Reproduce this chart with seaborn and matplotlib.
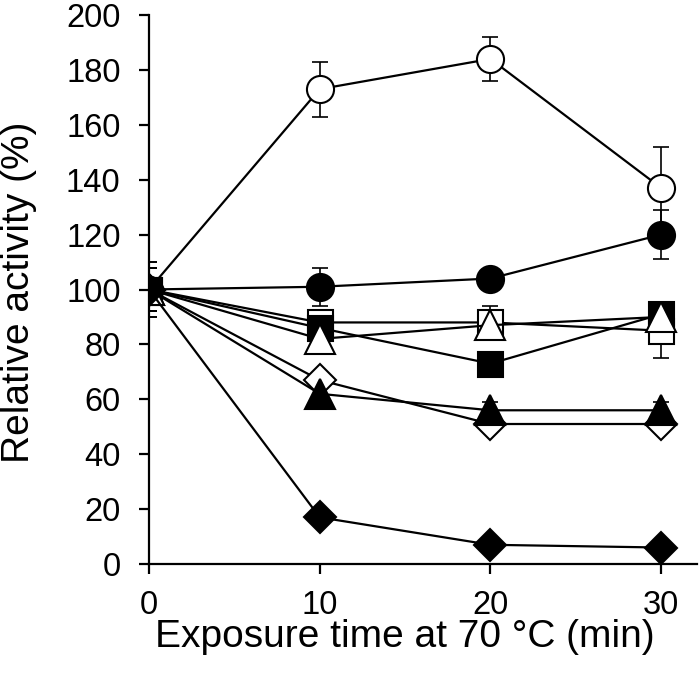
import matplotlib
matplotlib.use("Agg")
import matplotlib.pyplot as plt
import seaborn as sns
import pandas as pd
import numpy as np

times = [0, 10, 20, 30]
open_circle = [100, 173, 184, 137]
open_circle_err = [10, 10, 8, 15]
filled_circle = [100, 101, 104, 120]
filled_circle_err = [10, 7, 3, 9]
filled_square = [100, 86, 73, 91]
filled_square_err = [8, 3, 3, 3]
open_square = [100, 88, 88, 85]
open_square_err = [8, 3, 6, 10]
open_triangle = [100, 82, 87, 90]
open_triangle_err = [8, 3, 3, 3]
filled_triangle = [100, 62, 56, 56]
filled_triangle_err = [8, 2, 3, 3]
open_diamond = [100, 67, 51, 51]
open_diamond_err = [8, 2, 2, 2]
filled_diamond = [100, 17, 7, 6]
filled_diamond_err = [8, 2, 2, 2]

series = [
    ("open_circle", open_circle, open_circle_err, "o", "white", 19.5),
    ("filled_circle", filled_circle, filled_circle_err, "o", "black", 19.5),
    ("open_square", open_square, open_square_err, "s", "white", 18),
    ("filled_square", filled_square, filled_square_err, "s", "black", 18),
    ("open_diamond", open_diamond, open_diamond_err, "D", "white", 16),
    ("filled_triangle", filled_triangle, filled_triangle_err, "^", "black", 21),
    ("open_triangle", open_triangle, open_triangle_err, "^", "white", 21),
    ("filled_diamond", filled_diamond, filled_diamond_err, "D", "black", 16),
]

sns.set_style("ticks")
plt.rcParams['font.family'] = ['Liberation Sans', 'DejaVu Sans']
plt.rcParams['text.color'] = 'black'
plt.rcParams['axes.labelcolor'] = 'black'
plt.rcParams['xtick.color'] = 'black'
plt.rcParams['ytick.color'] = 'black'

fig = plt.figure(figsize=(7.0, 6.77), dpi=100)
ax = fig.add_axes([149/700, 113/677, 548/700, 549/677])

for name, vals, errs, mk, fc, ms in series:
    df = pd.DataFrame({"t": times, "v": vals})
    ax.errorbar(times, vals, yerr=errs, fmt="none", ecolor="black",
                elinewidth=1.2, capsize=5.5, capthick=1.2, zorder=2)
    sns.lineplot(data=df, x="t", y="v", ax=ax, color="black", linewidth=1.6,
                 marker=mk, markersize=ms, markerfacecolor=fc,
                 markeredgecolor="black", markeredgewidth=1.5, zorder=3)

ax.set_xlim(0, 32.1)
ax.set_ylim(0, 200)
ax.set_xticks([0, 10, 20, 30])
ax.set_yticks(np.arange(0, 201, 20))
for s in ["top", "right"]:
    ax.spines[s].set_visible(False)
for s in ["left", "bottom"]:
    ax.spines[s].set_linewidth(1.6)
    ax.spines[s].set_color("black")
ax.tick_params(axis="both", direction="out", length=7.5, width=1.6,
               labelsize=23.5, pad=13, colors="black")
ax.tick_params(axis="x", pad=11)
ax.set_xlabel("Exposure time at 70 °C (min)", fontsize=28)
ax.set_ylabel("Relative activity (%)", fontsize=28)
ax.yaxis.set_label_coords(-0.205, 0.495)
ax.xaxis.set_label_coords(0.467, -0.101)
fig.savefig("out.png", dpi=100)
